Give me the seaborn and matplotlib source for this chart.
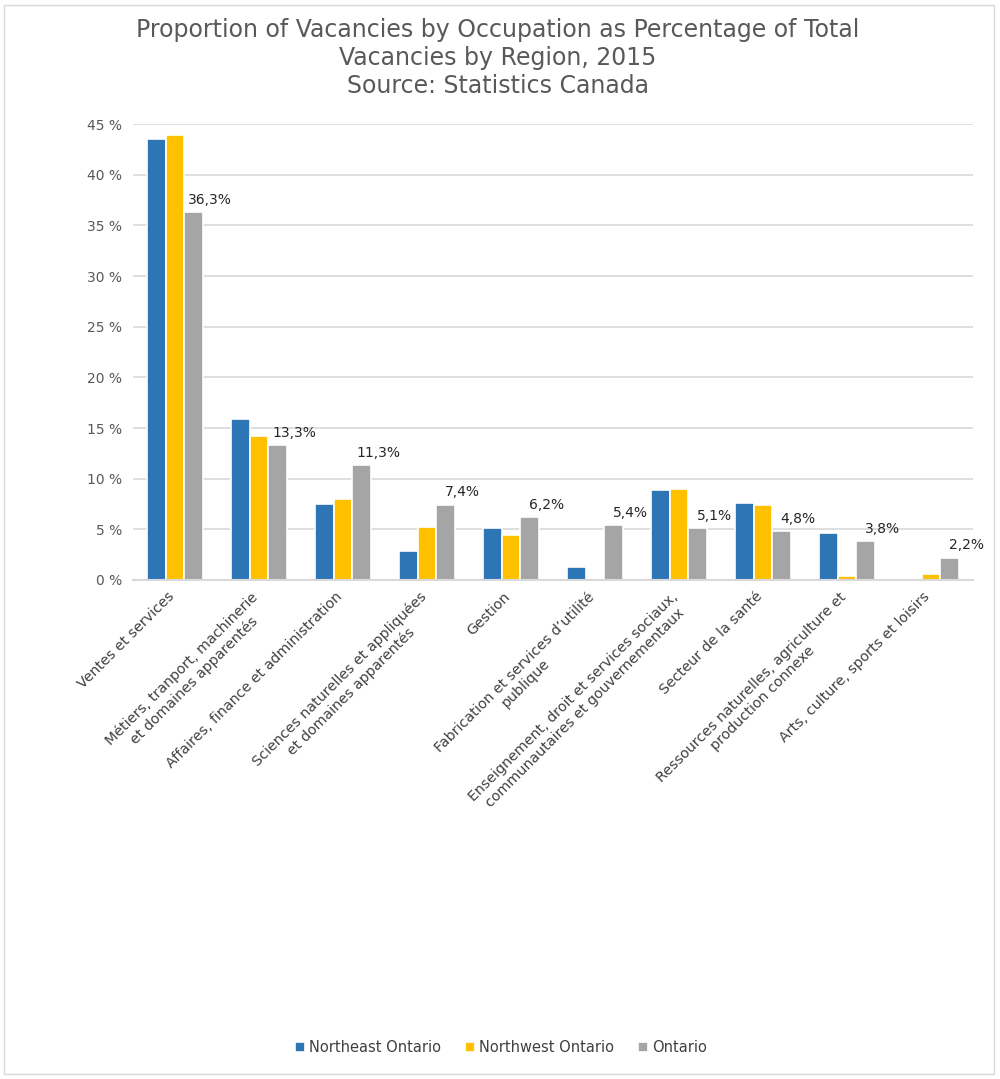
import matplotlib
matplotlib.use("Agg")
import matplotlib.pyplot as plt
import matplotlib.transforms as mtransforms
import pandas as pd
import seaborn as sns
from matplotlib.patches import Rectangle

sns.set_style("white")
plt.rcParams["font.family"] = ["DejaVu Sans"]

categories = [
    "Ventes et services",
    "Métiers, tranport, machinerie\net domaines apparentés",
    "Affaires, finance et administration",
    "Sciences naturelles et appliquées\net domaines apparentés",
    "Gestion",
    "Fabrication et services d’utilité\npublique",
    "Enseignement, droit et services sociaux,\ncommunautaires et gouvernementaux",
    "Secteur de la santé",
    "Ressources naturelles, agriculture et\nproduction connexe",
    "Arts, culture, sports et loisirs",
]
northeast = [43.5, 15.9, 7.5, 2.9, 5.1, 1.3, 8.9, 7.6, 4.6, 0.0]
northwest = [43.9, 14.2, 8.0, 5.2, 4.4, 0.0, 9.0, 7.4, 0.4, 0.6]
ontario = [36.3, 13.3, 11.3, 7.4, 6.2, 5.4, 5.1, 4.8, 3.8, 2.2]
regions = ["Northeast Ontario", "Northwest Ontario", "Ontario"]
colors = ["#2E75B6", "#FFC000", "#A5A5A5"]
yticks = [0, 5, 10, 15, 20, 25, 30, 35, 40, 45]

df = pd.DataFrame({
    "category": categories * 3,
    "region": [r for r in regions for _ in categories],
    "value": northeast + northwest + ontario,
})

fig = plt.figure(figsize=(10, 10.79), dpi=100)
ax = fig.add_axes([0.133, 0.4625, 0.840, 0.4225])

sns.barplot(data=df, x="category", y="value", hue="region", order=categories,
            hue_order=regions, palette=colors, width=0.66, edgecolor="white",
            linewidth=1.2, saturation=1, ax=ax)

ax.set_ylim(0, 45)
ax.set_xlim(-0.5, len(categories) - 0.5)
ax.set_yticks(yticks)
ax.set_yticklabels([f"{t} %" for t in yticks], color="#595959", fontsize=10)
ax.yaxis.grid(True, color="#d9d9d9", linewidth=1.2)
ax.set_axisbelow(True)
for s in ["top", "right", "left"]:
    ax.spines[s].set_visible(False)
ax.spines["bottom"].set_color("#d9d9d9")
ax.spines["bottom"].set_linewidth(1.5)
ax.tick_params(axis="y", length=0, pad=8)
ax.tick_params(axis="x", length=0, pad=4)
ax.set_xlabel("")
ax.set_ylabel("")

ax.set_xticks(range(len(categories)))
ax.set_xticklabels(categories, rotation=45, ha="right", va="top",
                   rotation_mode="anchor", multialignment="center",
                   color="#404040", fontsize=10.3)
shift = mtransforms.ScaledTranslation(-0.08, -0.04, fig.dpi_scale_trans)
for lbl in ax.get_xticklabels():
    lbl.set_transform(lbl.get_transform() + shift)

# data labels on the Ontario series
ont_bars = ax.containers[2]
for bar, v in zip(ont_bars, ontario):
    ax.annotate(f"{v:.1f}%".replace(".", ","),
                (bar.get_x() + bar.get_width() / 2, bar.get_height()),
                xytext=(12, 4), textcoords="offset points", ha="center",
                va="bottom", fontsize=10, color="#262626")

ax.legend(loc="upper center", bbox_to_anchor=(0.438, -0.98), ncol=3,
          frameon=False, fontsize=10.5, handlelength=0.7, handleheight=0.7,
          handletextpad=0.3, columnspacing=1.6, labelcolor="#404040")

fig.suptitle("Proportion of Vacancies by Occupation as Percentage of Total\n"
             "Vacancies by Region, 2015\nSource: Statistics Canada",
             x=0.498, y=0.983, fontsize=17, color="#595959", linespacing=1.2)

fig.patches.append(Rectangle((0.004, 0.005), 0.99, 0.99, transform=fig.transFigure,
                             fill=False, edgecolor="#d9d9d9", linewidth=1))

fig.savefig("out.png", dpi=100, facecolor="white")
